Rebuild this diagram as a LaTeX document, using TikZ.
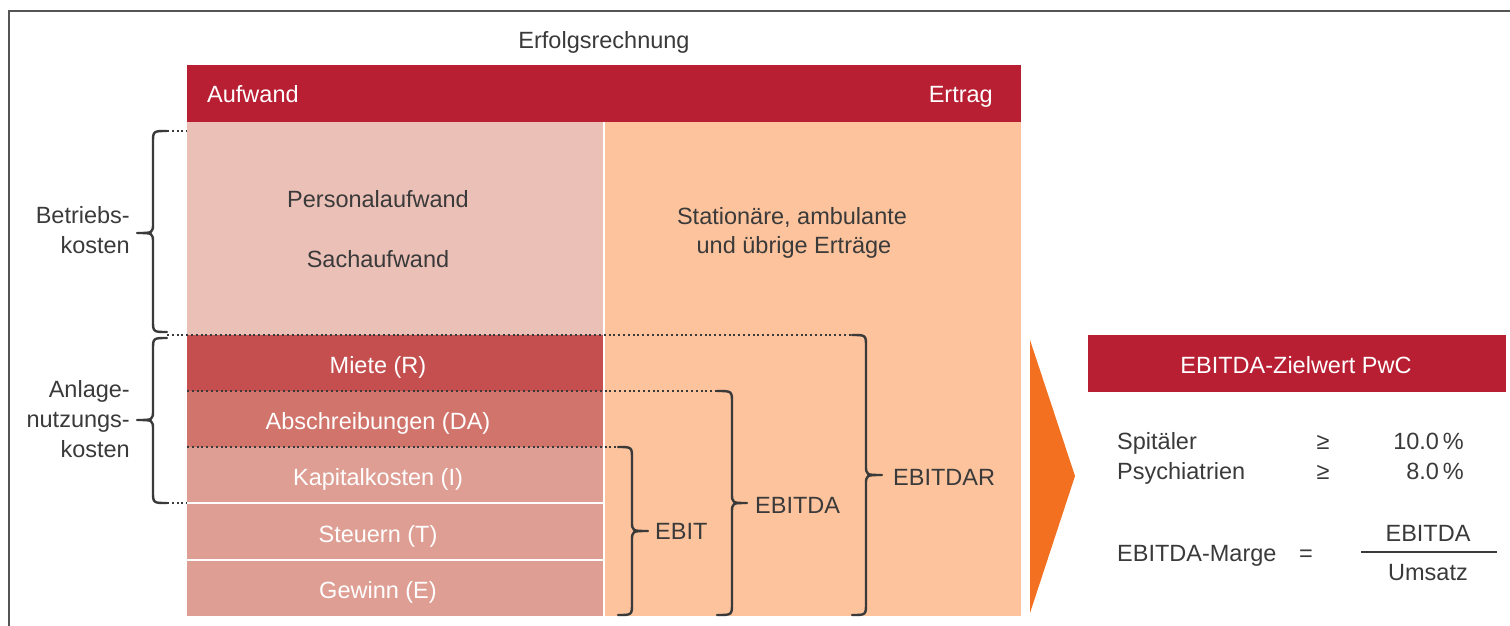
\documentclass[tikz,border=0pt]{standalone}
\usepackage{fontspec}
\setmainfont{Liberation Sans}
\definecolor{cRed}{HTML}{B81F33}
\definecolor{cPers}{HTML}{EBC0B7}
\definecolor{cMiete}{HTML}{C44F4E}
\definecolor{cAbs}{HTML}{D1746B}
\definecolor{cKap}{HTML}{DE9E93}
\definecolor{cErtr}{HTML}{FCC39D}
\definecolor{cOrange}{HTML}{F37021}
\definecolor{tc}{HTML}{3A3A3A}
\definecolor{frameC}{HTML}{555555}
\newcommand\mybrace[6]{% x0, xs, xt, ytop, ymid, ybot
  \draw[bracestyle] (#1,#4) .. controls (#2,#4) .. (#2,#4+12) -- (#2,#5-10)
    .. controls (#2,#5) .. (#3,#5) .. controls (#2,#5) .. (#2,#5+10)
    -- (#2,#6-12) .. controls (#2,#6) .. (#1,#6);}
\begin{document}
\begin{tikzpicture}[x=1pt,y=-1pt,
  txt/.style={font=\fontsize{23.5}{28}\selectfont, text=tc, inner sep=0pt},
  wtxt/.style={txt, text=white},
  dotline/.style={draw=tc, line width=2pt, dash pattern=on 2pt off 2.8pt},
  bracestyle/.style={draw=tc, line width=2.4pt, line cap=round, line join=round},
  sep/.style={draw=white, line width=2pt}]
\useasboundingbox (0,0) rectangle (1510,625);
% frame
\draw[frameC, line width=1.5pt] (9,626) -- (9,11) -- (1511,11);
% blocks
\fill[cRed] (187,65) rectangle (1021,122);
\fill[cPers] (187,122) rectangle (603,335);
\fill[cErtr] (605,122) rectangle (1021,616);
\fill[cMiete] (187,335) rectangle (603,391);
\fill[cAbs] (187,391) rectangle (603,447);
\fill[cKap] (187,447) rectangle (603,616);
\draw[sep] (187,503) -- (603,503);
\draw[sep] (187,560) -- (603,560);
% dotted lines
\draw[dotline] (167,131) -- (187,131);
\draw[dotline] (167,335) -- (852,335);
\draw[dotline] (187,391) -- (717,391);
\draw[dotline] (187,447) -- (618,447);
\draw[dotline] (167,503) -- (187,503);
% braces
\mybrace{167}{153}{137}{131}{233}{332}
\mybrace{167}{153}{137}{338}{420}{503}
\mybrace{852}{866}{882}{335}{475}{615}
\mybrace{717}{732}{747}{391}{503}{615}
\mybrace{618}{632}{648}{447}{531}{615}
% chevron
\fill[cOrange] (1030,340) -- (1075,476) -- (1030,613) -- cycle;
% right box
\fill[cRed] (1088,335) rectangle (1506,392);
\draw[tc, line width=1.5pt] (1361,552) -- (1497,552);
% texts
\node[txt, anchor=base] (erfolg) at (604,48) {Erfolgsrechnung};
\node[wtxt, anchor=base west] (aufwand) at (207,102) {Aufwand};
\node[wtxt, anchor=base east] (ertrag) at (993,102) {Ertrag};
\node[txt, anchor=base] (pers) at (378,207) {Personalaufwand};
\node[txt, anchor=base] (sach) at (378,267) {Sachaufwand};
\node[txt, anchor=base] (stat1) at (792,224) {Stationäre, ambulante};
\node[txt, anchor=base] (stat2) at (794,253) {und übrige Erträge};
\node[txt, anchor=base east] (betr1) at (130,223) {Betriebs-};
\node[txt, anchor=base east] (betr2) at (130,253) {kosten};
\node[txt, anchor=base east] (anl1) at (130,397) {Anlage-};
\node[txt, anchor=base east] (anl2) at (130,427) {nutzungs-};
\node[txt, anchor=base east] (anl3) at (130,457) {kosten};
\node[wtxt, anchor=base] (miete) at (378,373) {Miete (R)};
\node[wtxt, anchor=base] (abs) at (378,429) {Abschreibungen (DA)};
\node[wtxt, anchor=base] (kap) at (378,485) {Kapitalkosten (I)};
\node[wtxt, anchor=base] (steu) at (378,542) {Steuern (T)};
\node[wtxt, anchor=base] (gew) at (378,598) {Gewinn (E)};
\node[txt, anchor=base west] (ebitdar) at (893,485) {EBITDAR};
\node[txt, anchor=base west] (ebitda) at (755,513) {EBITDA};
\node[txt, anchor=base west] (ebit) at (655,539) {EBIT};
\node[wtxt, anchor=base] (ziel) at (1296,373) {EBITDA-Zielwert PwC};
\node[txt, anchor=base west] (spit) at (1117,449) {Spitäler};
\node[txt, anchor=base west] (psych) at (1117,479) {Psychiatrien};
\node[txt, anchor=base] (ge1) at (1323,449) {≥};
\node[txt, anchor=base] (ge2) at (1323,479) {≥};
\node[txt, anchor=base east] (v1) at (1464,449) {10.0\,\%};
\node[txt, anchor=base east] (v2) at (1464,479) {8.0\,\%};
\node[txt, anchor=base west] (marge) at (1117,561) {EBITDA-Marge};
\node[txt, anchor=base] (eq) at (1306,561) {=};
\node[txt, anchor=base] (num) at (1428,541) {EBITDA};
\node[txt, anchor=base] (den) at (1428,580) {Umsatz};
\end{tikzpicture}
\end{document}
